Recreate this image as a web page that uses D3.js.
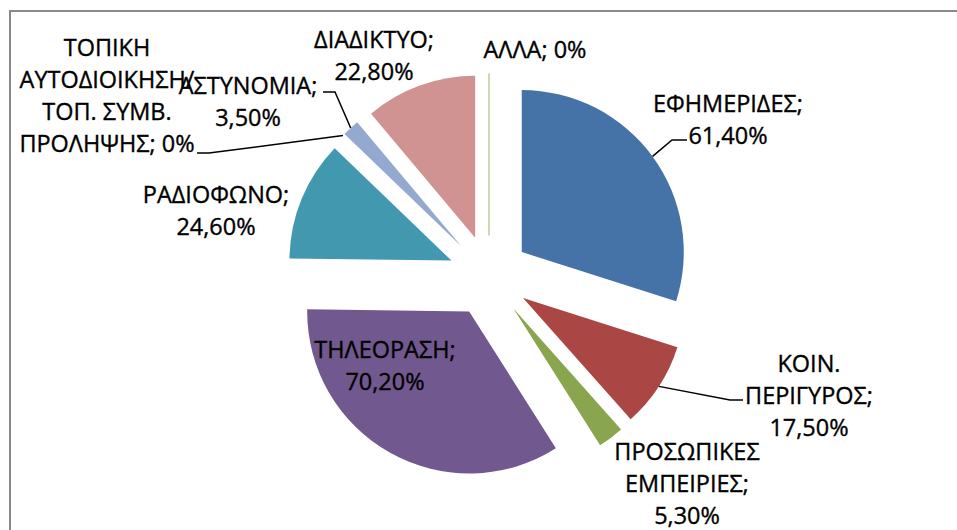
<!DOCTYPE html>
<html>
<head>
<meta charset="utf-8">
<script src="https://cdn.jsdelivr.net/npm/d3@7"></script>
<style>
  html, body { margin: 0; padding: 0; background: #fff; }
  svg { display: block; }
  text { font-family: "Open Sans", sans-serif; fill: #000; stroke: #000; stroke-width: 0.35px; }
</style>
</head>
<body>
<svg id="chart" width="957" height="530"></svg>
<script>
// Information sources (share of respondents, %)
const categories = [
  "ΕΦΗΜΕΡΙΔΕΣ",
  "ΚΟΙΝ. ΠΕΡΙΓΥΡΟΣ",
  "ΠΡΟΣΩΠΙΚΕΣ ΕΜΠΕΙΡΙΕΣ",
  "ΤΗΛΕΟΡΑΣΗ",
  "ΡΑΔΙΟΦΩΝΟ",
  "ΤΟΠΙΚΗ ΑΥΤΟΔΙΟΙΚΗΣΗ/ΤΟΠ. ΣΥΜΒ. ΠΡΟΛΗΨΗΣ",
  "ΑΣΤΥΝΟΜΙΑ",
  "ΔΙΑΔΙΚΤΥΟ",
  "ΑΛΛΑ"
];
const values = [61.4, 17.5, 5.3, 70.2, 24.6, 0, 3.5, 22.8, 0];
const colors = ["#4572A7", "#AA4643", "#89A54E", "#71588F", "#4198AF",
                "#DB843D", "#93A9CF", "#D19392", "#B9CD96"];

// Label placement: centre x, first baseline, words per line, leader elbow points
const labelLayout = [
  { x: 728, y: 112, words: [1, 1],       leader: [[672, 140], [687, 140]] },
  { x: 809, y: 372, words: [1, 1, 1],    leader: [[730, 400], [743, 400]] },
  { x: 687, y: 460, words: [1, 1, 1],    leader: null },
  { x: 385, y: 358, words: [1, 1],       leader: null },
  { x: 216, y: 203, words: [1, 1],       leader: null },
  { x: 107, y: 56,  words: [1, 1, 2, 2], leader: [[209, 153], [197, 153]] },
  { x: 248, y: 94,  words: [1, 1],       leader: [[335, 92], [323, 92]] },
  { x: 374, y: 48,  words: [1, 1],       leader: null },
  { x: 535, y: 58,  words: [2],          leader: null }
];

const W = 957, H = 530;
const cx = 489, cy = 276;
const radius = 162;
const explode = 40.6;
const lineHeight = 32;
const fontSize = 23;

const svg = d3.select("#chart");

// chart area frame
svg.append("rect")
  .attr("x", 10).attr("y", 11)
  .attr("width", W + 40).attr("height", H + 40)
  .attr("fill", "none")
  .attr("stroke", "#898989")
  .attr("stroke-width", 2);

const pie = d3.pie().sort(null).value(d => d)
  .startAngle(0).endAngle(2 * Math.PI);
const arcs = pie(values);
const arc = d3.arc().innerRadius(0).outerRadius(radius);

const mid = d => (d.startAngle + d.endAngle) / 2;
const offset = d => [Math.sin(mid(d)) * explode, -Math.cos(mid(d)) * explode];

const g = svg.append("g").attr("transform", `translate(${cx},${cy})`);

// the closing zero-width slice shows as a hairline at 12 o'clock
g.selectAll("path.slice")
  .data(arcs)
  .join("path")
  .attr("class", "slice")
  .attr("transform", d => `translate(${offset(d)[0]},${offset(d)[1]})`)
  .attr("d", arc)
  .attr("fill", (d, i) => colors[i])
  .attr("stroke", (d, i) => d.value === 0 && d.startAngle >= 2 * Math.PI - 1e-9 ? colors[i] : "none")
  .attr("stroke-width", 1);

// value text in the local format: 61,40%
const fmtValue = v => v === 0 ? "0%" : d3.format(".2f")(v).replace(".", ",") + "%";

// horizontal fit so the labels keep a narrow, Calibri-like width
const probe = svg.append("text").attr("font-size", fontSize).text("ΕΦΗΜΕΡΙΔΕΣ;");
const probeW = probe.node().getComputedTextLength();
probe.remove();
const sx = Math.max(0.8, Math.min(1.1, 150 / probeW));

const labels = svg.append("g");
arcs.forEach((d, i) => {
  const lay = labelLayout[i];
  const full = `${categories[i]}; ${fmtValue(values[i])}`;
  const words = full.split(/(?<=\/)| /);
  const lines = [];
  let k = 0;
  lay.words.forEach(n => {
    lines.push(words.slice(k, k + n).join(" "));
    k += n;
  });
  lines.forEach((ln, j) => {
    labels.append("text")
      .attr("transform", `translate(${lay.x},${lay.y + j * lineHeight}) scale(${sx},1)`)
      .attr("text-anchor", "middle")
      .attr("font-size", fontSize)
      .text(ln);
  });

  if (lay.leader) {
    const [ox, oy] = offset(d);
    const a = mid(d);
    const px = cx + ox + Math.sin(a) * radius;
    const py = cy + oy - Math.cos(a) * radius;
    labels.append("path")
      .attr("d", d3.line()([[px, py]].concat(lay.leader)))
      .attr("fill", "none")
      .attr("stroke", "#000")
      .attr("stroke-width", 1.5);
  }
});
</script>
</body>
</html>
